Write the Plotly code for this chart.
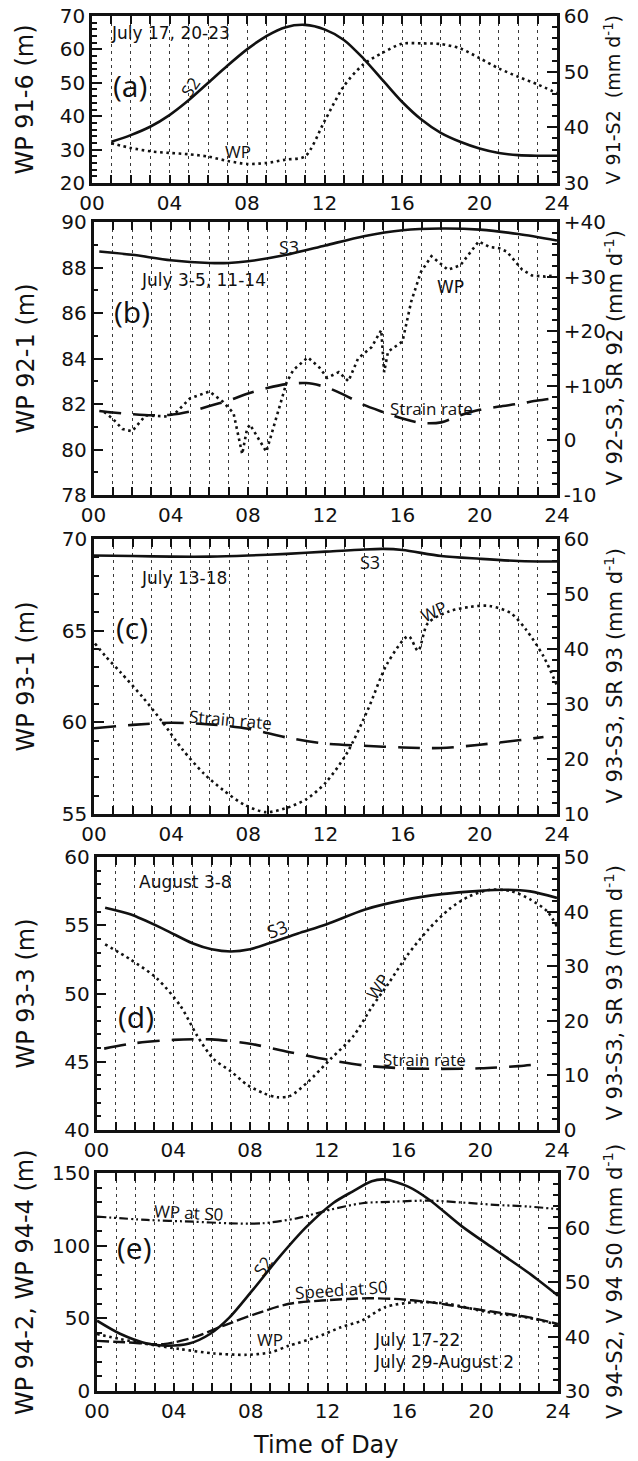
import plotly.graph_objects as go

W, H = 638, 1461

# ---------------- data ----------------
HOUR_TICKS = [0, 4, 8, 12, 16, 20, 24]
HOUR_TEXT = ["00", "04", "08", "12", "16", "20", "24"]

# (a)
A_S2_H = [1, 2, 3, 4, 5, 6, 7, 8, 9, 10, 11, 12, 13, 14, 15, 16, 17, 18, 19, 20, 21, 22, 23, 24]
A_S2 = [37.4, 38.6, 40.1, 42.2, 44.9, 48.0, 51.1, 54.0, 56.4, 58.0, 58.4, 57.6, 55.7, 52.4, 48.5, 44.6,
        41.4, 39.0, 37.4, 36.2, 35.4, 35.0, 34.9, 34.9]
A_WP_H = [1, 2, 3, 4, 5, 6, 7, 8, 9, 10, 11, 12, 13, 14, 15, 16, 17, 18, 19, 20, 21, 22, 23, 24]
A_WP = [31.9, 30.5, 29.5, 29.0, 28.6, 27.9, 26.6, 25.7, 26.0, 27.0, 28.0, 38.5, 49.0, 55.5, 59.0, 61.7,
        61.8, 61.6, 60.3, 57.4, 54.3, 51.8, 49.5, 46.9]

# (b)
B_S3_H = [0.3, 2, 4, 6, 7, 8, 10, 12, 14, 16, 18, 20, 22, 24]
B_S3 = [34.6, 34.0, 33.0, 32.5, 32.5, 32.8, 34.0, 35.7, 37.4, 38.5, 38.8, 38.6, 37.8, 36.6]
B_SR_H = [0.3, 1, 2, 3, 4, 5, 6, 7, 8, 9, 10, 11, 12, 13, 14, 15, 16, 17, 18, 19, 20, 21, 22, 23, 24]
B_SR = [5.4, 5.1, 4.8, 4.6, 4.7, 5.3, 6.3, 7.3, 8.6, 9.6, 10.3, 10.5, 9.8, 8.3, 6.5, 5.2, 4.0, 3.2, 3.3,
        4.6, 5.6, 6.2, 6.7, 7.3, 7.8]
B_WP_H = [0.55, 1.0, 1.5, 2.0, 2.4, 2.7, 3.8, 4.3, 5.0, 6.0, 6.7, 7.25, 7.7, 7.95, 8.1, 8.95, 10.0, 10.35,
          11.1, 11.7, 12.1, 12.7, 13.2, 13.7, 14.4, 14.9, 15.05, 15.25, 16.0, 16.45, 16.95, 17.5, 18.35,
          19.0, 19.95, 20.5, 21.0, 21.4, 22.2, 22.7, 23.4, 23.8]
B_WP = [81.65, 81.35, 80.9, 80.8, 81.2, 81.5, 81.45, 81.65, 82.25, 82.55, 82.1, 81.6, 79.8, 80.9, 81.1,
        79.9, 82.95, 83.5, 84.05, 83.6, 83.15, 83.4, 83.0, 84.0, 84.5, 85.25, 83.4, 84.3, 84.75, 86.5,
        87.8, 88.5, 87.9, 88.1, 89.15, 88.9, 88.85, 88.7, 87.9, 87.65, 87.6, 87.65]

# (c)
C_S3_H = [0, 2, 4, 6, 8, 10, 12, 14, 15, 16, 18, 20, 22, 24]
C_S3 = [57.0, 56.9, 56.8, 56.8, 57.0, 57.3, 57.7, 58.1, 58.2, 58.0, 56.9, 56.4, 56.0, 55.9]
C_WP_H = [0.05, 0.6, 1.4, 2.5, 3.56, 4.6, 5.7, 6.7, 7.8, 8.9, 9.9, 11.0, 12.0, 13.1, 14.2, 15.2, 16.3,
          16.8, 17.3, 18.4, 19.5, 20.5, 21.6, 22.4, 23.3, 24]
C_WP = [64.3, 63.6, 62.7, 61.4, 60.0, 58.5, 57.2, 56.3, 55.5, 55.1, 55.3, 55.8, 56.7, 58.3, 60.7, 63.2,
        64.7, 63.9, 65.4, 66.05, 66.3, 66.35, 65.96, 65.05, 63.6, 62.0]
C_SR_H = [0, 2, 4, 6, 8, 10, 12, 14, 16, 18, 20, 22, 23.3]
C_SR = [25.6, 26.2, 26.6, 26.3, 25.5, 23.9, 22.8, 22.4, 22.1, 22.0, 22.6, 23.4, 24.0]

# (d)
D_S3_H = [0.45, 1.76, 3.5, 5.0, 6.0, 7.0, 8.0, 9.0, 10.5, 12.0, 14.0, 16.0, 18.0, 20.0, 21.3, 22.6, 24]
D_S3 = [40.7, 39.5, 36.8, 34.2, 33.1, 32.7, 33.1, 34.2, 36.0, 37.7, 40.4, 42.1, 43.2, 43.8, 44.0, 43.7, 42.5]
D_WP_H = [0.45, 1.76, 3.15, 4.37, 5.25, 6.1, 7.0, 7.86, 8.7, 9.43, 10.1, 11.0, 12.2, 13.4, 14.3, 15.2,
          16.2, 17.3, 18.4, 19.4, 20.5, 21.6, 22.6, 23.5, 24]
D_WP = [53.6, 52.5, 51.1, 49.1, 46.9, 45.2, 44.3, 43.3, 42.7, 42.4, 42.5, 43.5, 45.2, 46.9, 48.9, 50.7,
        52.8, 54.7, 56.2, 57.1, 57.6, 57.5, 56.9, 56.0, 54.9]
D_SR_H = [0.4, 2, 4, 6, 8, 10, 12, 14, 16, 18, 20, 22, 23.2]
D_SR = [14.9, 15.9, 16.5, 16.6, 15.8, 14.3, 12.9, 11.8, 11.3, 11.2, 11.3, 11.7, 12.1]

# (e)
E_S2_H = [0, 1.2, 2.6, 3.6, 4.8, 5.9, 6.9, 8.1, 9.5, 10.9, 12.3, 13.3, 14.3, 15.0, 16.2, 17.3, 19.0,
          20.7, 22.5, 24]
E_S2 = [42.9, 40.5, 38.7, 38.3, 38.7, 40.5, 43.5, 48.5, 54.6, 60.1, 64.5, 66.6, 68.5, 68.8, 67.5, 65.1,
        60.2, 56.0, 51.6, 47.5]
E_WPS0_H = [0, 2.6, 5.0, 6.9, 8.6, 10.4, 12.1, 13.8, 15.5, 17.3, 19.0, 20.7, 22.5, 24]
E_WPS0 = [120.0, 117.7, 116.5, 115.4, 115.4, 118.8, 124.6, 129.2, 130.3, 131.0, 129.7, 128.1, 126.9, 125.1]
E_SPD_H = [0, 1.7, 3.45, 5.0, 6.6, 8.3, 10.0, 11.7, 13.8, 15.5, 17.3, 19.0, 20.7, 22.5, 24]
E_SPD = [39.2, 38.9, 38.6, 39.8, 42.0, 44.2, 46.0, 46.6, 47.0, 46.9, 46.3, 45.4, 44.5, 43.5, 42.3]
E_WP_H = [0, 1.2, 2.6, 4.3, 6.1, 7.8, 9.0, 10.0, 11.4, 12.7, 13.8, 15.0, 16.6, 18.3, 19.9, 20.7, 22.5, 24]
E_WP = [39.2, 35.8, 32.3, 28.9, 25.8, 24.9, 26.5, 31.2, 36.9, 43.8, 48.5, 57.7, 61.1, 60.0, 55.4, 53.5,
        50.3, 45.5]

# ---------------- layout helpers ----------------
FONT = "DejaVu Sans"
LBL = "Open Sans"
BLACK = "#111111"

# panel pixel boxes: left, right, top, bottom
BOX = [(92, 557, 16, 183), (93.5, 557, 222, 495), (94, 557, 539, 814),
       (96.5, 557, 857, 1130), (97, 558, 1173, 1391)]

LEFT = [((20, 70), 10, 2), ((78, 90), 2, 1), ((55, 70), 5, 1), ((40, 60), 5, 1), ((0, 150), 50, 10)]
RIGHT = [((30, 60), 10, 2, None), ((-10, 40), 10, 2, ["-10", "0", "+10", "+20", "+30", "+40"]),
         ((10, 60), 10, 2, None), ((0, 50), 10, 2, None), ((30, 70), 10, 2, None)]

LEFT_TITLES = ["WP 91-6 (m)", "WP 92-1 (m)", "WP 93-1 (m)", "WP 93-3 (m)", "WP 94-2, WP 94-4 (m)"]
RIGHT_TITLES = ["V 91-S2 &nbsp;(mm d<sup>-1</sup>)", "V 92-S3, SR 92 (mm d<sup>-1</sup>)",
                "V 93-S3, SR 93 (mm d<sup>-1</sup>)", "V 93-S3, SR 93 (mm d<sup>-1</sup>)",
                "V 94-S2, V 94 S0 (mm d<sup>-1</sup>)"]
RIGHT_TITLE_SIZE = [19, 21, 21, 21, 21]


def pxx(x):
    return x / W


def pyy(y):
    return 1 - y / H


fig = go.Figure()
layout = dict(width=W, height=H, margin=dict(l=0, r=0, t=0, b=0, pad=0), paper_bgcolor="white",
              plot_bgcolor="white", showlegend=False, annotations=[])

for i, (x0, x1, y0, y1) in enumerate(BOX):
    n = i + 1
    xa = "xaxis" if n == 1 else f"xaxis{n}"
    yl = 2 * n - 1
    yr = 2 * n
    yla = "yaxis" if yl == 1 else f"yaxis{yl}"
    layout[xa] = dict(
        domain=[pxx(x0), pxx(x1)], anchor=f"y{'' if yl == 1 else yl}", range=[0, 24],
        tickmode="array", tickvals=HOUR_TICKS, ticktext=HOUR_TEXT,
        ticks="inside", ticklen=8, tickwidth=2, tickcolor=BLACK,
        showline=True, linewidth=2.5, linecolor=BLACK, mirror="allticks",
        showgrid=True, gridcolor="#3a3a3a", gridwidth=1, griddash="3px,4px",
        zeroline=False, automargin=False, tickfont=dict(family=FONT, size=20, color=BLACK),
        minor=dict(tickmode="linear", tick0=0, dtick=1, ticks="inside", ticklen=8, tickwidth=2,
                   tickcolor=BLACK, showgrid=True, gridcolor="#3a3a3a", gridwidth=1,
                   griddash="3px,4px"),
    )
    (lr, lmaj, lmin) = LEFT[i]
    layout[yla] = dict(
        domain=[pyy(y1), pyy(y0)], anchor=f"x{'' if n == 1 else n}", range=list(lr),
        tickmode="linear", tick0=lr[0], dtick=lmaj, ticks="inside", ticklen=10, tickwidth=2,
        tickcolor=BLACK, showline=True, linewidth=2.5, linecolor=BLACK, showgrid=False,
        zeroline=False, automargin=False, tickfont=dict(family=FONT, size=20, color=BLACK),
        minor=dict(tickmode="linear", tick0=lr[0], dtick=lmin, ticks="inside", ticklen=5,
                   tickwidth=1.5, tickcolor=BLACK, showgrid=False),
    )
    (rr, rmaj, rmin, rtext) = RIGHT[i]
    ydict = dict(
        domain=[pyy(y1), pyy(y0)], anchor=f"x{'' if n == 1 else n}", overlaying=f"y{'' if yl == 1 else yl}",
        side="right", range=list(rr), ticks="inside", ticklen=10, tickwidth=2, tickcolor=BLACK,
        showline=True, linewidth=2.5, linecolor=BLACK, showgrid=False, zeroline=False,
        automargin=False, tickfont=dict(family=FONT, size=20, color=BLACK),
        minor=dict(tickmode="linear", tick0=rr[0], dtick=rmin, ticks="inside", ticklen=5,
                   tickwidth=1.5, tickcolor=BLACK, showgrid=False),
    )
    if rtext:
        ydict.update(tickmode="array", tickvals=list(range(rr[0], rr[1] + 1, rmaj)), ticktext=rtext)
    else:
        ydict.update(tickmode="linear", tick0=rr[0], dtick=rmaj)
    layout[f"yaxis{yr}"] = ydict

    cy = (y0 + y1) / 2
    layout["annotations"].append(dict(
        text=LEFT_TITLES[i], xref="paper", yref="paper", x=pxx(25), y=pyy(cy), textangle=-90,
        showarrow=False, xanchor="center", yanchor="middle",
        font=dict(family=FONT, size=24, color=BLACK)))
    layout["annotations"].append(dict(
        text=RIGHT_TITLES[i], xref="paper", yref="paper", x=pxx(613), y=pyy(cy), textangle=-90,
        showarrow=False, xanchor="center", yanchor="middle",
        font=dict(family=FONT, size=RIGHT_TITLE_SIZE[i], color=BLACK)))

layout["annotations"].append(dict(
    text="Time of Day", xref="paper", yref="paper", x=pxx(326), y=pyy(1445), showarrow=False,
    xanchor="center", yanchor="middle", font=dict(family=FONT, size=24, color=BLACK)))

SOLID = dict(color=BLACK, width=2.6)
DOT = dict(color=BLACK, width=2.6, dash="2.6px,3.6px")
LONGDASH = dict(color=BLACK, width=2.6, dash="22px,12px")
DASHDOTDOT = dict(color=BLACK, width=2.2, dash="9px,3px,2px,3px,2px,3px")
DASH = dict(color=BLACK, width=2.4, dash="12px,4px")


def add(n, side, xs, ys, line, shape="spline"):
    yl = 2 * n - 1 if side == "L" else 2 * n
    fig.add_trace(go.Scatter(x=xs, y=ys, mode="lines", line=dict(shape=shape, smoothing=0.8, **line),
                             xaxis=f"x{'' if n == 1 else n}", yaxis=f"y{'' if yl == 1 else yl}",
                             hoverinfo="skip"))


add(1, "R", A_S2_H, A_S2, SOLID)
add(1, "L", A_WP_H, A_WP, DOT)
add(2, "R", B_S3_H, B_S3, SOLID)
add(2, "R", B_SR_H, B_SR, LONGDASH)
add(2, "L", B_WP_H, B_WP, DOT, shape="linear")
add(3, "R", C_S3_H, C_S3, SOLID)
add(3, "L", C_WP_H, C_WP, DOT)
add(3, "R", C_SR_H, C_SR, LONGDASH)
add(4, "R", D_S3_H, D_S3, SOLID)
add(4, "L", D_WP_H, D_WP, DOT)
add(4, "R", D_SR_H, D_SR, LONGDASH)
add(5, "R", E_S2_H, E_S2, SOLID)
add(5, "L", E_WPS0_H, E_WPS0, DASHDOTDOT)
add(5, "R", E_SPD_H, E_SPD, DASH)
add(5, "L", E_WP_H, E_WP, DOT)

# in-plot labels: panel, hour, left-axis value, text, size, angle, family, xanchor
LABELS = [
    (1, 4.04, 64.9, "July 17, 20-23", 17, 0, FONT, "center"),
    (1, 1.97, 49.3, "(a)", 30, 0, LBL, "center"),
    (1, 5.1, 48.8, "S2", 17, -55, LBL, "center"),
    (1, 7.56, 29.5, "WP", 17, 0, LBL, "center"),
    (2, 10.1, 88.9, "S3", 18, 0, LBL, "center"),
    (2, 5.7, 87.45, "July 3-5, 11-14", 17, 0, FONT, "center"),
    (2, 2.0, 86.06, "(b)", 30, 0, LBL, "center"),
    (2, 18.5, 87.16, "WP", 17, 0, FONT, "center"),
    (2, 17.5, 81.82, "Strain rate", 17, 0, LBL, "center"),
    (3, 14.3, 68.76, "S3", 18, 0, LBL, "center"),
    (3, 4.67, 67.87, "July 13-18", 17, 0, FONT, "center"),
    (3, 1.97, 65.15, "(c)", 30, 0, LBL, "center"),
    (3, 17.6, 66.03, "WP", 17, -25, LBL, "center"),
    (3, 7.05, 60.13, "Strain rate", 17, 5, LBL, "center"),
    (4, 4.66, 58.19, "August 3-8", 17, 0, FONT, "center"),
    (4, 9.4, 54.75, "S3", 18, -20, LBL, "center"),
    (4, 2.06, 48.3, "(d)", 30, 0, LBL, "center"),
    (4, 14.67, 50.5, "WP", 17, -55, LBL, "center"),
    (4, 17.07, 45.13, "Strain rate", 17, 0, LBL, "center"),
    (5, 4.74, 122.5, "WP at S0", 17, 3, LBL, "center"),
    (5, 1.93, 98.4, "(e)", 30, 0, LBL, "center"),
    (5, 8.6, 86.0, "S2", 17, -55, LBL, "center"),
    (5, 12.75, 69.5, "Speed at S0", 17, -4, LBL, "center"),
    (5, 9.0, 35.1, "WP", 17, 0, LBL, "center"),
    (5, 14.3, 35.1, "July 17-22", 17, 0, FONT, "left"),
    (5, 14.3, 20.2, "July 29-August 2", 17, 0, FONT, "left"),
]
for (n, hx, vy, txt, size, ang, fam, xanc) in LABELS:
    yl = 2 * n - 1
    layout["annotations"].append(dict(
        text=txt, xref=f"x{'' if n == 1 else n}", yref=f"y{'' if yl == 1 else yl}", x=hx, y=vy,
        showarrow=False, textangle=ang, xanchor=xanc, yanchor="middle",
        font=dict(family=fam, size=size, color=BLACK)))

fig.update_layout(**layout)
fig.write_html("out.html", config={"displayModeBar": False},
               post_script="document.body.style.margin='0px';document.body.style.overflow='hidden';")
